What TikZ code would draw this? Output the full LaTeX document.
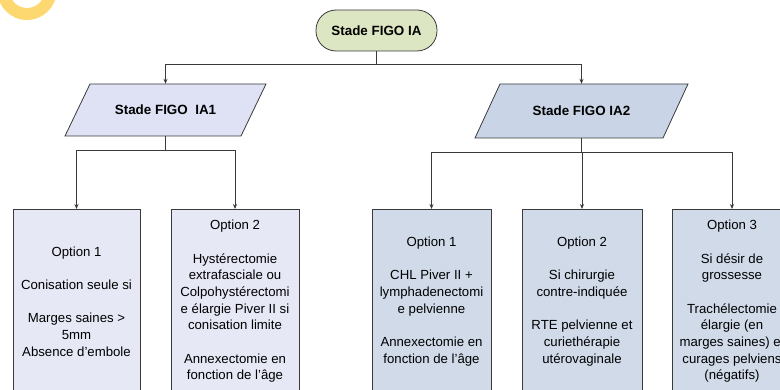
\documentclass[tikz,border=0pt]{standalone}
\usepackage{fontspec}
\setmainfont{Liberation Sans}
\usetikzlibrary{arrows.meta}
\definecolor{topfill}{HTML}{DDE6C2}
\definecolor{lavfill}{HTML}{DFE2F4}
\definecolor{lavbox}{HTML}{E6E8F6}
\definecolor{bluefill}{HTML}{C9D5E7}
\definecolor{bluebox}{HTML}{D0DAE9}
\definecolor{edge}{HTML}{3A3A3A}
\definecolor{ringcol}{HTML}{FDD870}
\begin{document}
\begin{tikzpicture}[x=1pt,y=-1pt,
  conn/.style={draw=edge,line width=0.8pt,-{Stealth[length=5pt,width=4pt]}},
  plainconn/.style={draw=edge,line width=0.8pt},
  titletxt/.style={font=\fontsize{13.4}{15}\selectfont\bfseries,text=black},
  optbox/.style={draw=edge,line width=0.8pt,minimum height=184pt,anchor=north,
    align=center,inner sep=1pt,font=\fontsize{13.2}{16.7}\selectfont},
  para/.style={draw=edge,line width=0.8pt}
]
\useasboundingbox (0,0) rectangle (780,390);
\begin{scope}
\clip (0,0) rectangle (780,390);
% yellow ring fragment
\fill[ringcol,even odd rule] (27,-9.6) circle[radius=29.6pt] (27,-9.6) circle[radius=17.6pt];

% top node
\node[titletxt,draw=edge,line width=0.8pt,fill=topfill,rounded corners=20pt,
  minimum width=121pt,minimum height=41pt,inner sep=0pt] (top) at (376.5,30.5) {Stade FIGO IA};

% parallelograms
\draw[para,fill=lavfill] (90,84) -- (266,84) -- (241,136) -- (65,136) -- cycle;
\node[titletxt,minimum width=150pt,minimum height=52pt,inner sep=0pt] (ia1) at (165.5,110) {Stade FIGO\ \ IA1};
\draw[para,fill=bluefill] (500,84) -- (688,84) -- (663,138) -- (475,138) -- cycle;
\node[titletxt,minimum width=160pt,minimum height=54pt,inner sep=0pt] (ia2) at (581.5,111) {Stade FIGO IA2};

% boxes
\node[optbox,fill=lavbox,minimum width=127pt] (b1) at (76.5,209)
 {Option 1\\[16.7pt]Conisation seule si\\[16.7pt]Marges saines >\\5mm\\Absence d’embole};
\node[optbox,fill=lavbox,minimum width=128pt] (b2) at (235,209)
 {Option 2\\[16.7pt]Hystérectomie\\extrafasciale ou\\Colpohystérectomi\\e élargie Piver II si\\conisation limite\\[16.7pt]Annexectomie en\\fonction de l’âge};
\node[optbox,fill=bluebox,minimum width=119pt] (b3) at (431.5,209)
 {Option 1\\[16.7pt]CHL Piver II +\\lymphadenectomi\\e pelvienne\\[16.7pt]Annexectomie en\\fonction de l’âge};
\node[optbox,fill=bluebox,minimum width=120pt] (b4) at (582,209)
 {Option 2\\[16.7pt]Si chirurgie\\contre-indiquée\\[16.7pt]RTE pelvienne et\\curiethérapie\\utérovaginale};
\node[optbox,fill=bluebox,minimum width=120pt] (b5) at (732,209)
 {Option 3\\[16.7pt]Si désir de\\grossesse\\[16.7pt]Trachélectomie\\élargie (en\\marges saines) et\\curages pelviens\\(négatifs)};

% connectors
\coordinate (j0) at ([yshift=-13pt]top.south);
\draw[plainconn] (top.south) -- (j0);
\draw[conn] (j0) -| (ia1.north);
\draw[conn] (j0) -| (ia2.north);

\coordinate (j1) at ([yshift=-14pt]ia1.south);
\draw[plainconn] (ia1.south) -- (j1);
\draw[conn] (j1) -| (b1.north);
\draw[conn] (j1) -| (b2.north);

\coordinate (j2) at ([yshift=-14pt]ia2.south);
\draw[plainconn] (ia2.south) -- (j2);
\draw[conn] (j2) -| (b3.north);
\draw[conn] (j2) -| (b4.north);
\draw[conn] (j2) -| (b5.north);
\end{scope}
\end{tikzpicture}
\end{document}
